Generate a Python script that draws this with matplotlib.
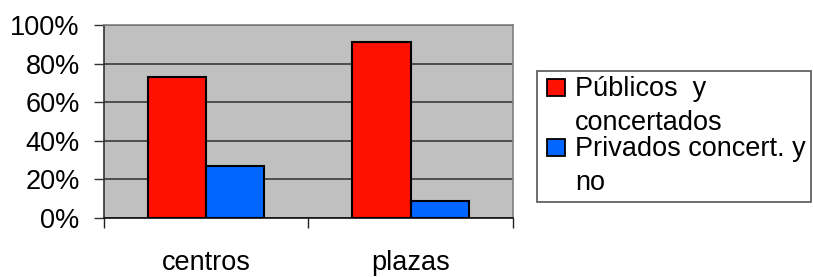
import matplotlib
matplotlib.use("Agg")
import matplotlib.pyplot as plt
import numpy as np
from matplotlib.patches import Rectangle
from matplotlib.ticker import FuncFormatter

# data
categories = ["centros", "plazas"]
publicos = [73, 91]
privados = [27, 9]
series_labels = ["Públicos  y\nconcertados", "Privados concert. y\nno"]
series_colors = ["#ff1000", "#0066ff"]

plt.rcParams["font.family"] = ["Liberation Sans", "DejaVu Sans"]
fs = 19.5

fig = plt.figure(figsize=(8.13, 2.77), dpi=100)
ax = fig.add_axes([104 / 813, 59 / 277, 408.7 / 813, 193 / 277])

x = np.arange(len(categories))
w = 0.285
ax.bar(x - w / 2, publicos, w, color=series_colors[0], edgecolor="black", linewidth=1.5, zorder=3)
ax.bar(x + w / 2, privados, w, color=series_colors[1], edgecolor="black", linewidth=1.5, zorder=3)

ax.set_facecolor("#c0c0c0")
ax.set_xlim(-0.5, len(categories) - 0.5)
ax.set_ylim(0, 100)
ax.set_yticks(np.arange(0, 101, 20))
ax.yaxis.set_major_formatter(FuncFormatter(lambda v, p: f"{int(v)}%"))
ax.yaxis.grid(True, color="#3a3a3a", linewidth=1.2, zorder=1)
ax.set_axisbelow(True)

ax.set_xticks(x)
ax.set_xticklabels(categories)
ax.set_xticks(np.arange(-0.5, len(categories)), minor=True)
ax.tick_params(axis="x", which="major", length=0, pad=23, labelsize=fs)
ax.tick_params(axis="x", which="minor", length=7.5, width=1, color="#222222", direction="out")
ax.tick_params(axis="y", length=7.5, width=1, color="#333333", pad=10, labelsize=fs)

for s in ["top", "right"]:
    ax.spines[s].set_color("#808080")
    ax.spines[s].set_linewidth(1.2)
ax.spines["left"].set_color("#333333")
ax.spines["bottom"].set_color("#111111")
ax.spines["left"].set_linewidth(1.2)
ax.spines["bottom"].set_linewidth(1.2)

# legend box drawn by hand (Excel layout)
W, H = 813, 277
fig.patches.append(Rectangle((537 / W, (H - 202) / H), 274 / W, 131 / H,
                             transform=fig.transFigure, facecolor="white",
                             edgecolor="#555555", linewidth=1.2))
first_baselines = [96.5, 156]
for lab, col, yb in zip(series_labels, series_colors, first_baselines):
    fig.patches.append(Rectangle((547 / W, (H - yb + 0.5) / H), 18 / W, 17 / H,
                                 transform=fig.transFigure, facecolor=col,
                                 edgecolor="black", linewidth=1.3))
    for i, line in enumerate(lab.split("\n")):
        fig.text(575 / W, (H - yb - i * 33.5) / H, line, fontsize=fs,
                 va="baseline", ha="left")

fig.savefig("out.png", dpi=100)
